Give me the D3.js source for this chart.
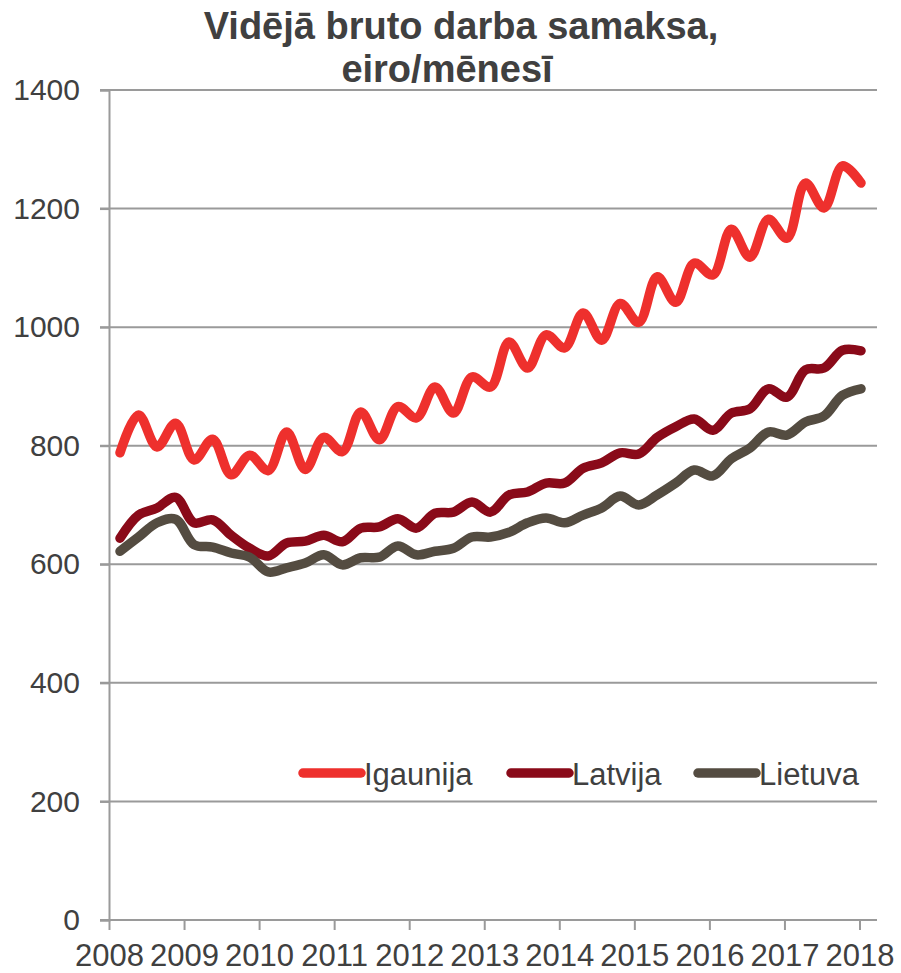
<!doctype html>
<html lang="lv">
<head>
<meta charset="utf-8">
<script src="https://cdn.jsdelivr.net/npm/d3@7/dist/d3.min.js"></script>
<style>
  body { margin: 0; background: #fff; font-family: "Liberation Sans", Arial, sans-serif; }
  .axis text { font-family: "Liberation Sans", Arial, sans-serif; }
</style>
</head>
<body>
<div id="chart"></div>
<script>
// quarters 2008Q1 .. 2018Q1
var quarters = [];
for (var yr = 2008; yr <= 2018; yr++) {
  for (var q = 1; q <= 4; q++) {
    if (yr === 2018 && q > 1) break;
    quarters.push(yr + "Q" + q);
  }
}

var igaunija = [788, 852, 798, 838, 776, 811, 751, 784, 758, 823, 760, 814,
  790, 857, 810, 866, 847, 899, 855, 916, 899, 975, 931, 987,
  965, 1024, 978, 1040, 1008, 1085, 1042, 1108, 1088, 1165, 1118, 1182,
  1150, 1243, 1201, 1272, 1243];
var latvija = [644, 683, 695, 713, 670, 675, 649, 627, 614, 636, 639, 649,
  638, 661, 663, 677, 661, 686, 688, 705, 688, 717, 722, 737,
  737, 762, 771, 788, 786, 814, 832, 845, 826, 855, 862, 896,
  882, 928, 931, 961, 960];
var lietuva = [622, 646, 670, 676, 633, 629, 619, 612, 587, 594, 602, 616,
  599, 611, 612, 631, 616, 622, 627, 646, 646, 654, 670, 678,
  670, 683, 695, 715, 700, 717, 737, 759, 749, 778, 796, 823,
  818, 840, 850, 885, 896];

var seriesNames = ["Igaunija", "Latvija", "Lietuva"];
var seriesColors = ["#ee302d", "#8a0a19", "#544c41"];
var yTicks = [0, 200, 400, 600, 800, 1000, 1200, 1400];
var years = [2008, 2009, 2010, 2011, 2012, 2013, 2014, 2015, 2016, 2017, 2018];

var W = 901, H = 973;
var textColor = "#404040", gridColor = "#9a9a9a";

var svg = d3.select("#chart").append("svg")
  .attr("width", W).attr("height", H);

var y = d3.scaleLinear().domain([0, 1400]).range([920, 90]);
var xYear = d3.scaleLinear().domain([2008, 2018]).range([109, 859.5]);
var xq = d3.scalePoint().domain(quarters).range([120, 861]);

// title
var title = svg.append("g")
  .attr("font-weight", "bold")
  .attr("font-size", "38px")
  .attr("fill", textColor)
  .attr("text-anchor", "middle");
title.append("text").attr("x", 461).attr("y", 39).text("Vidējā bruto darba samaksa,");
title.append("text").attr("x", 447).attr("y", 82).text("eiro/mēnesī");

// gridlines
svg.append("g")
  .selectAll("line")
  .data(yTicks.filter(d => d > 0))
  .join("line")
  .attr("x1", 100).attr("x2", 877)
  .attr("y1", d => y(d)).attr("y2", d => y(d))
  .attr("stroke", gridColor).attr("stroke-width", 2);

// y axis
svg.append("g")
  .attr("class", "axis")
  .attr("transform", "translate(109,0)")
  .call(d3.axisLeft(y).tickValues(yTicks).tickFormat(d3.format("d")).tickSize(9).tickPadding(20))
  .call(g => g.select(".domain").attr("stroke", gridColor).attr("stroke-width", 2))
  .call(g => g.selectAll(".tick line").attr("stroke", gridColor).attr("stroke-width", 2))
  .call(g => g.selectAll("text").attr("font-size", "30px").attr("fill", textColor));

// x axis
svg.append("g")
  .attr("class", "axis")
  .attr("transform", "translate(0,920)")
  .call(d3.axisBottom(xYear).tickValues(years).tickFormat(d3.format("d")).tickSize(10).tickSizeOuter(0).tickPadding(14))
  .call(g => g.select(".domain").attr("stroke", gridColor).attr("stroke-width", 2).attr("d", "M100,0H877"))
  .call(g => g.selectAll(".tick line").attr("stroke", gridColor).attr("stroke-width", 2))
  .call(g => g.selectAll("text").attr("font-size", "31px").attr("fill", textColor));

// lines
var allSeries = [igaunija, latvija, lietuva];
var line = d3.line()
  .x((d, i) => xq(quarters[i]))
  .y(d => y(d))
  .curve(d3.curveCatmullRom.alpha(0.5));

svg.append("g")
  .selectAll("path")
  .data(allSeries)
  .join("path")
  .attr("fill", "none")
  .attr("stroke", (d, i) => seriesColors[i])
  .attr("stroke-width", 9.5)
  .attr("stroke-linecap", "round")
  .attr("stroke-linejoin", "round")
  .attr("d", line);

// legend
var legendX = [303, 511, 698];
var leg = svg.append("g")
  .selectAll("g")
  .data(seriesNames)
  .join("g")
  .attr("transform", (d, i) => "translate(" + legendX[i] + ",773)");
leg.append("line")
  .attr("x1", 0).attr("x2", 58)
  .attr("stroke", (d, i) => seriesColors[i])
  .attr("stroke-width", 9.5)
  .attr("stroke-linecap", "round");
leg.append("text")
  .attr("x", 61).attr("y", 12)
  .attr("font-size", "31px")
  .attr("fill", textColor)
  .text(d => d);
</script>
</body>
</html>
